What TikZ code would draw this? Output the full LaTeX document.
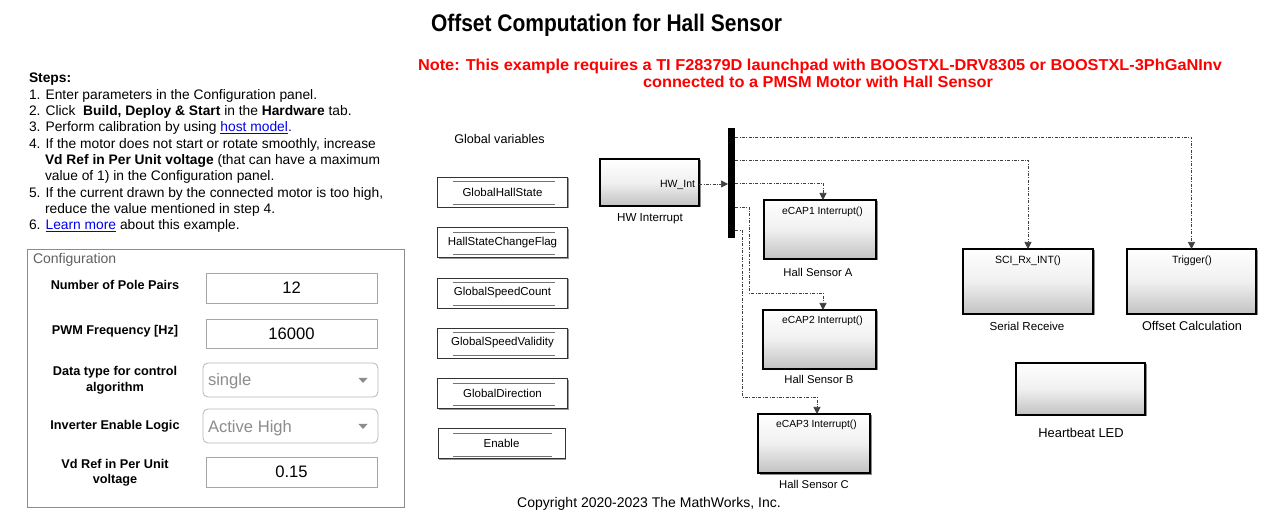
\documentclass[tikz,border=0pt]{standalone}
\usepackage{fontspec}
\setmainfont{Liberation Sans}
\usepackage{graphicx}
\usetikzlibrary{arrows.meta,shadows}
\definecolor{linkblue}{HTML}{0000EE}
\definecolor{notered}{HTML}{FF0000}
\newcommand\fsz[1]{\fontsize{#1pt}{#1pt}\selectfont}
\tikzset{
  txt/.style={inner sep=0pt, outer sep=0pt, anchor=base},
  txtl/.style={inner sep=0pt, outer sep=0pt, anchor=base west},
  sig/.style={draw=black!75, line width=0.7pt, dash pattern=on 3pt off 1.5pt on 0.8pt off 1.5pt},
  sigarr/.style={sig, -{Triangle[length=7pt,width=7pt]}},
  blk/.style={draw=black, line width=1.6pt, inner sep=0pt, outer sep=0pt,
    top color=white, bottom color=black!24, middle color=white!94!black,
    drop shadow={shadow xshift=1.5pt, shadow yshift=-1.5pt, fill=black!45, opacity=1}},
  dsm/.style={draw=black!80, line width=0.9pt, fill=white, inner sep=0pt, outer sep=0pt,
    minimum height=30pt, font=\fsz{11.5},
    drop shadow={shadow xshift=1.2pt, shadow yshift=-1.2pt, fill=black!40, opacity=1}},
  dsline/.style={draw=black!55, line width=1pt},
  field/.style={draw=black!35, line width=0.8pt, fill=white, inner sep=0pt, outer sep=0pt, font=\fsz{16.6}},
  dropd/.style={draw=black!28, line width=0.8pt, fill=white, rounded corners=5pt, inner sep=0pt, outer sep=0pt},
  cfglbl/.style={inner sep=0pt, outer sep=0pt, anchor=base, font=\fsz{12.7}\bfseries},
  steptxt/.style={inner sep=0pt, outer sep=0pt, anchor=base west, font=\fsz{13.8}},
}
\begin{document}
\begin{tikzpicture}[x=1pt, y=-1pt]
\useasboundingbox (0,0) rectangle (1280,518);
\fill[white] (0,0) rectangle (1280,518);

% Title and note
\node[txt] (title) at (606.5,32) {\resizebox{351pt}{\height}{\fsz{24}\bfseries Offset Computation for Hall Sensor}};
\node[txt, text=notered] (note1) at (820,71) {\resizebox{804pt}{\height}{\fsz{15.8}\bfseries Note: This example requires a TI F28379D launchpad with BOOSTXL-DRV8305 or BOOSTXL-3PhGaNInv}};
\node[txt, text=notered] (note2) at (818,88) {\resizebox{350pt}{\height}{\fsz{15.8}\bfseries connected to a PMSM Motor with Hall Sensor}};

% Steps
\node[steptxt] (s0) at (29,83) {\textbf{Steps:}};
\node[steptxt] (s1) at (29,99.3) {1. Enter parameters in the Configuration panel.};
\node[steptxt] (s2) at (29,115.6) {2. Click\ \ \textbf{Build, Deploy \& Start} in the \textbf{Hardware} tab.};
\node[steptxt] (s3) at (29,131.9) {3. Perform calibration by using \textcolor{linkblue}{\underline{host model}.}};
\node[steptxt] (s4) at (29,148.2) {4. If the motor does not start or rotate smoothly, increase};
\node[steptxt] (s5) at (45,164.5) {\textbf{Vd Ref in Per Unit voltage} (that can have a maximum};
\node[steptxt] (s6) at (45,180.8) {value of 1) in the Configuration panel.};
\node[steptxt] (s7) at (29,197.1) {5. If the current drawn by the connected motor is too high,};
\node[steptxt] (s8) at (45,213.4) {reduce the value mentioned in step 4.};
\node[steptxt] (s9) at (29,229.7) {6. \textcolor{linkblue}{\underline{Learn more}} about this example.};

% Configuration panel
\node[draw=black!45, line width=0.8pt, inner sep=0pt, minimum width=377pt, minimum height=258pt] (cfg) at (215.5,378) {};
\node[txtl, text=black!62, font=\fsz{14}] (cfgt) at (33,264) {Configuration};

\node[cfglbl] (l1) at (115,289.5) {Number of Pole Pairs};
\node[cfglbl] (l2) at (115,334.5) {PWM Frequency [Hz]};
\node[cfglbl] (l3a) at (115,375.5) {Data type for control};
\node[cfglbl] (l3b) at (115,391.5) {algorithm};
\node[cfglbl] (l4) at (115,429.5) {Inverter Enable Logic};
\node[cfglbl] (l5a) at (115,468.5) {Vd Ref in Per Unit};
\node[cfglbl] (l5b) at (115,483.5) {voltage};

\node[field, minimum width=171pt, minimum height=30pt] (f1) at (291.5,288) {12};
\node[field, minimum width=171pt, minimum height=29pt] (f2) at (291.5,333.5) {16000};
\node[dropd, minimum width=175pt, minimum height=34pt] (d1) at (290.5,380) {};
\node[txtl, text=black!45, font=\fsz{16.6}] (d1t) at (208,386) {single};
\fill[black!45] (358.5,378) -- (367.5,378) -- (363,383) -- cycle;
\node[dropd, minimum width=175pt, minimum height=34pt] (d2) at (290.5,426) {};
\node[txtl, text=black!45, font=\fsz{16.6}] (d2t) at (208,432) {Active High};
\fill[black!45] (358.5,424) -- (367.5,424) -- (363,429) -- cycle;
\node[field, minimum width=171pt, minimum height=30pt] (f3) at (291.5,472) {0.15};

% Global variables
\node[txt, font=\fsz{12.6}] (gv) at (499.5,143.5) {Global variables};
\node[dsm, minimum width=130pt] (ds1) at (502.5,192) {GlobalHallState};
\node[dsm, minimum width=130pt] (ds2) at (502.5,242.5) {HallStateChangeFlag};
\node[dsm, minimum width=130pt] (ds3) at (502.5,293) {GlobalSpeedCount};
\node[dsm, minimum width=130pt] (ds4) at (502.5,343) {GlobalSpeedValidity};
\node[dsm, minimum width=130pt] (ds5) at (502.5,393.5) {GlobalDirection};
\node[dsm, minimum width=127pt] (ds6) at (501.5,443.5) {Enable};
\foreach \d in {ds1,ds2,ds3,ds4,ds5,ds6}{
  \draw[dsline] ([xshift=15pt,yshift=-5pt]\d.north west) -- ([xshift=-13pt,yshift=-5pt]\d.north east);
  \draw[dsline] ([xshift=15pt,yshift=2.5pt]\d.south west) -- ([xshift=-13pt,yshift=2.5pt]\d.south east);
}

% HW interrupt and bar
\node[blk, minimum width=99pt, minimum height=47pt] (hw) at (649.5,182.5) {};
\node[inner sep=0pt, outer sep=0pt, anchor=base east, font=\fsz{10.5}] (hwp) at (695,188) {HW\_Int};
\node[txt, font=\fsz{11.6}] (hwl) at (650,222) {HW Interrupt};
\node[fill=black, inner sep=0pt, outer sep=0pt, minimum width=7pt, minimum height=110pt] (bar) at (731.5,183) {};
\coordinate (hwout) at ([yshift=-1.5pt]hw.east);
\draw[sigarr] (hwout) -- (hwout -| bar.west);

% Function-call subsystems
\node[blk, minimum width=112pt, minimum height=59pt] (hA) at (820,229.5) {};
\node[txt, font=\fsz{10.3}] (hAp) at (822.5,214.7) {eCAP1 Interrupt()};
\node[txt, font=\fsz{11.3}] (hAl) at (818,277) {Hall Sensor A};

\node[blk, minimum width=113pt, minimum height=59pt] (hB) at (819.5,339.5) {};
\node[txt, font=\fsz{10.3}] (hBp) at (822.5,323.7) {eCAP2 Interrupt()};
\node[txt, font=\fsz{11.3}] (hBl) at (819,384) {Hall Sensor B};

\node[blk, minimum width=112pt, minimum height=59pt] (hC) at (814,443.5) {};
\node[txt, font=\fsz{10.3}] (hCp) at (816.5,427.7) {eCAP3 Interrupt()};
\node[txt, font=\fsz{11.3}] (hCl) at (814,488) {Hall Sensor C};

\node[blk, minimum width=130pt, minimum height=65pt] (sci) at (1028,281.5) {};
\node[txt, font=\fsz{10.5}] (scip) at (1028,263.8) {SCI\_Rx\_INT()};
\node[txt, font=\fsz{11.6}] (scil) at (1027,330.2) {Serial Receive};

\node[blk, minimum width=129pt, minimum height=65pt] (trig) at (1191.5,281.5) {};
\node[txt, font=\fsz{10.5}] (trigp) at (1192,263.8) {Trigger()};
\node[txt, font=\fsz{12.7}] (trigl) at (1192,330.6) {Offset Calculation};

\node[blk, minimum width=129pt, minimum height=52pt] (hb) at (1080.5,389) {};
\node[txt, font=\fsz{12.9}] (hbl) at (1081,437.6) {Heartbeat LED};

% Connectors from the bar
\draw[sigarr] ([yshift=-9pt]bar.north east) -| (trig.north);
\draw[sigarr] ([yshift=-32pt]bar.north east) -| (sci.north);
\draw[sigarr] ([yshift=-55pt]bar.north east) -| ([xshift=3pt]hA.north);
\draw[sigarr] ([yshift=-79pt]bar.north east) -- ++(14,0) |- ([xshift=3.5pt,yshift=17pt]hB.north) -- ([xshift=3.5pt]hB.north);
\draw[sigarr] ([yshift=-102pt]bar.north east) -- ++(7,0) |- ([xshift=3pt,yshift=17pt]hC.north) -- ([xshift=3pt]hC.north);

% Copyright
\node[txt, font=\fsz{14}] (copy) at (649,507) {Copyright 2020-2023 The MathWorks, Inc.};
\end{tikzpicture}
\end{document}
